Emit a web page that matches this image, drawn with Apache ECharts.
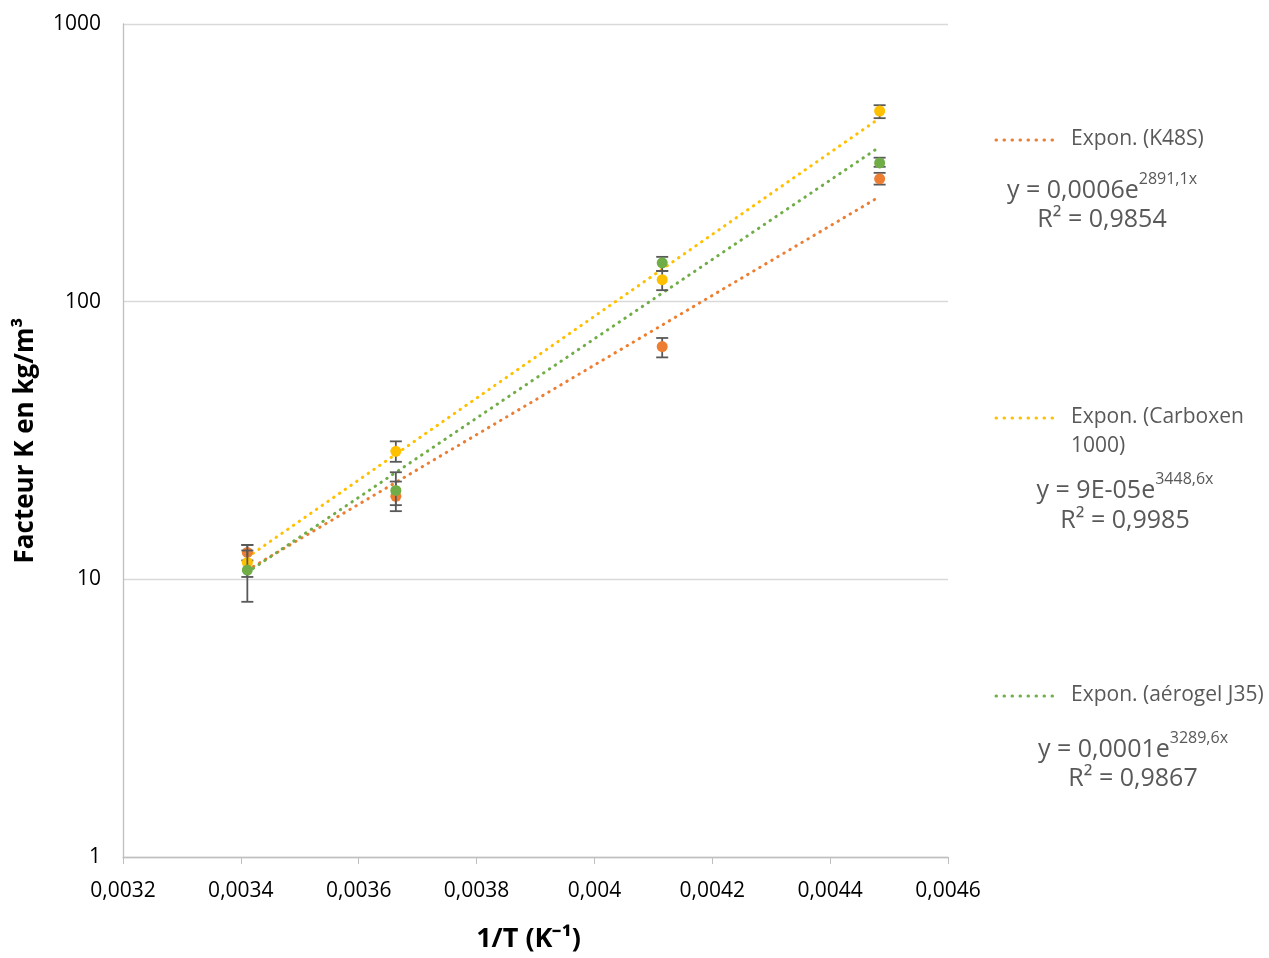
<!DOCTYPE html>
<html><head><meta charset="utf-8">
<script src="https://cdn.jsdelivr.net/npm/echarts@6/dist/echarts.min.js"></script>
<style>html,body{margin:0;padding:0;background:#fff}#c{width:1269px;height:958px}</style>
</head><body><div id="c"></div>
<script>
// 1/T values (K^-1)
const xVals = [0.003411, 0.003663, 0.004115, 0.004484];
// Facteur K values (kg/m3)
const k48s = [12.5, 19.9, 68.9, 277];
const k48sLow = [11.7, 17.6, 63, 264];
const k48sHigh = [13.3, 22.5, 74, 291];
const carboxen = [11.5, 28.9, 120, 486];
const carboxenLow = [10.2, 26.5, 110, 458];
const carboxenHigh = [12.7, 31.4, 129, 510];
const aerogel = [10.8, 20.9, 138, 316];
const aerogelLow = [8.3, 18.5, 129, 306];
const aerogelHigh = [13.3, 24.3, 145, 330];
// trendline end points
const trendX = [0.003411, 0.004484];
const trendK48s = [10.8, 239];
const trendCarboxen = [12.0, 458];
const trendAerogel = [10.6, 361];
const yTicks = ['1', '10', '100', '1000'];
const xTicks = ['0,0032','0,0034','0,0036','0,0038','0,004','0,0042','0,0044','0,0046'];
const trendNames = ['Expon. (K48S)', 'Expon. (Carboxen\n1000)', 'Expon. (aérogel J35)'];
const equations = [
  ['0,0006', '2891,1x', '0,9854'],
  ['9E-05', '3448,6x', '0,9985'],
  ['0,0001', '3289,6x', '0,9867']
];

const C_OR = '#ED7D31', C_YE = '#FFC000', C_GR = '#70AD47', C_ERR = '#595959';
const FONT = 'Open Sans';

const pts = (ys) => xVals.map((x, i) => [x, ys[i]]);
const errs = (lo, hi) => xVals.map((x, i) => [x, lo[i], hi[i]]);
const trend = (ys) => trendX.map((x, i) => [x, ys[i]]);

function errRender(params, api) {
  const x = api.value(0);
  const p1 = api.coord([x, api.value(1)]);
  const p2 = api.coord([x, api.value(2)]);
  const w = 6;
  const st = {stroke: C_ERR, lineWidth: 1.8};
  return {type: 'group', children: [
    {type: 'line', shape: {x1: p1[0], y1: p1[1], x2: p2[0], y2: p2[1]}, style: st},
    {type: 'line', shape: {x1: p1[0]-w, y1: p1[1], x2: p1[0]+w, y2: p1[1]}, style: st},
    {type: 'line', shape: {x1: p2[0]-w, y1: p2[1], x2: p2[0]+w, y2: p2[1]}, style: st}
  ]};
}

const dotted = (color) => ({color: color, width: 3, type: [0.5, 6.5], cap: 'round'});

const chart = echarts.init(document.getElementById('c'));

const graphics = [];
const legendY = [140, 418, 696];
const eqY = [[187, 220], [487, 521], [746, 779]];
const eqX = [1102, 1125, 1133];
const colors = [C_OR, C_YE, C_GR];
for (let i = 0; i < 3; i++) {
  graphics.push({type: 'line', shape: {x1: 996, y1: legendY[i], x2: 1056, y2: legendY[i]},
    style: {stroke: colors[i], lineWidth: 3, lineDash: [0.5, 7.5], lineCap: 'round'}});
  graphics.push({type: 'text', x: 1071, y: legendY[i] - 15,
    style: {text: trendNames[i], fontFamily: FONT, fontSize: 21, fill: C_ERR, lineHeight: 29, verticalAlign: 'top'}});
  graphics.push({
    type: 'text', x: eqX[i], y: eqY[i][0],
    style: {
      text: '{m|y = ' + equations[i][0] + 'e}{s|' + equations[i][1] + '}',
      align: 'center', verticalAlign: 'middle',
      rich: {
        m: {fontFamily: FONT, fontSize: 25, fill: C_ERR, lineHeight: 32, verticalAlign: 'bottom'},
        s: {fontFamily: FONT, fontSize: 16, fill: C_ERR, lineHeight: 32, verticalAlign: 'top', padding: [0, 0, 13, 0]}
      }
    }
  });
  graphics.push({
    type: 'text', x: eqX[i], y: eqY[i][1],
    style: {text: 'R² = ' + equations[i][2], fontFamily: FONT, fontSize: 25, fill: C_ERR, align: 'center', verticalAlign: 'middle'}
  });
}

chart.setOption({
  animation: false,
  textStyle: {fontFamily: FONT},
  grid: {left: 123, right: 321, top: 24, bottom: 99},
  xAxis: {
    type: 'value', min: 0.0032, max: 0.0046, interval: 0.0002,
    name: '1/T (K⁻¹)', nameLocation: 'middle', nameGap: 69,
    nameTextStyle: {fontFamily: FONT, fontSize: 27, fontWeight: 'bold', color: '#000', padding: [0, 14, 0, 0]},
    axisLine: {lineStyle: {color: '#BFBFBF', width: 1.3}},
    axisTick: {show: true, length: 7, lineStyle: {color: '#BFBFBF'}},
    splitLine: {show: false},
    axisLabel: {
      fontSize: 21, color: '#000', margin: 24,
      formatter: (v) => xTicks[Math.round((v - 0.0032) / 0.0002)]
    }
  },
  yAxis: {
    type: 'log', logBase: 10, min: 1, max: 1000,
    name: 'Facteur K en kg/m³', nameLocation: 'middle', nameGap: 84,
    nameTextStyle: {fontFamily: FONT, fontSize: 26, fontWeight: 'bold', color: '#000'},
    axisLine: {show: true, lineStyle: {color: '#BFBFBF', width: 1.3}},
    axisTick: {show: false},
    minorTick: {show: false},
    splitLine: {show: true, lineStyle: {color: '#D9D9D9', width: 1.3}},
    axisLabel: {
      fontSize: 21, color: '#000', margin: 22,
      formatter: (v) => yTicks[Math.round(Math.log10(v))]
    }
  },
  graphic: graphics,
  series: [
    {name: trendNames[0], type: 'line', data: trend(trendK48s), symbol: 'none', lineStyle: dotted(C_OR), itemStyle: {color: C_OR}, z: 2},
    {name: trendNames[1], type: 'line', data: trend(trendCarboxen), symbol: 'none', lineStyle: dotted(C_YE), itemStyle: {color: C_YE}, z: 2},
    {name: trendNames[2], type: 'line', data: trend(trendAerogel), symbol: 'none', lineStyle: dotted(C_GR), itemStyle: {color: C_GR}, z: 2},
    {name: 'errK48S', type: 'custom', data: errs(k48sLow, k48sHigh), renderItem: errRender, z: 3},
    {name: 'K48S', type: 'scatter', data: pts(k48s), symbolSize: 11, itemStyle: {color: C_OR, opacity: 1}, z: 4},
    {name: 'errCarboxen', type: 'custom', data: errs(carboxenLow, carboxenHigh), renderItem: errRender, z: 5},
    {name: 'Carboxen 1000', type: 'scatter', data: pts(carboxen), symbolSize: 11, itemStyle: {color: C_YE, opacity: 1}, z: 6},
    {name: 'errAerogel', type: 'custom', data: errs(aerogelLow, aerogelHigh), renderItem: errRender, z: 7},
    {name: 'aérogel J35', type: 'scatter', data: pts(aerogel), symbolSize: 11, itemStyle: {color: C_GR, opacity: 1}, z: 8}
  ]
});
</script></body></html>
